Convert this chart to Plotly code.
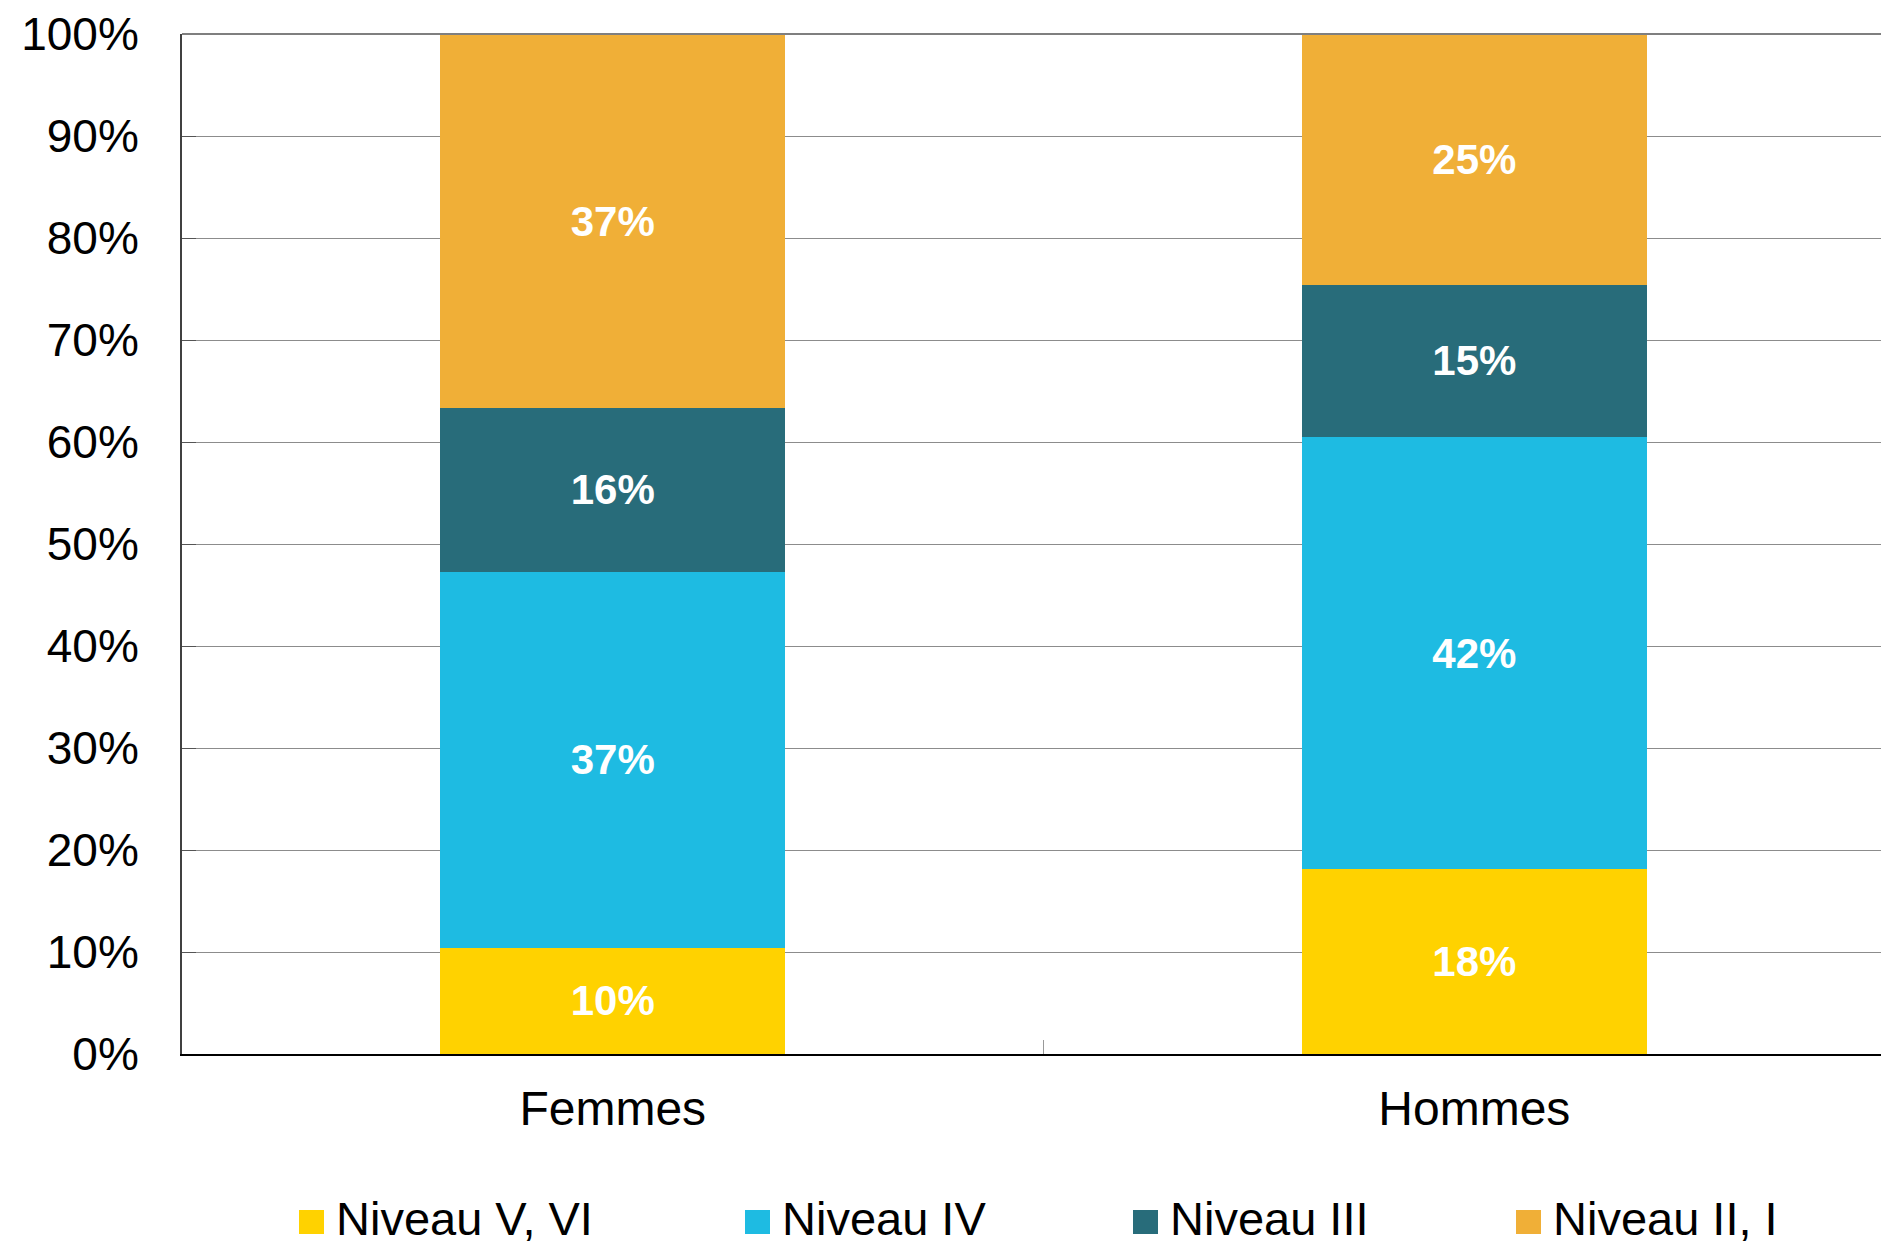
import plotly.graph_objects as go

categories = ["Femmes", "Hommes"]
series_names = ["Niveau V, VI", "Niveau IV", "Niveau III", "Niveau II, I"]
niveau_v_vi = [10.4, 18.1]
niveau_iv = [36.9, 42.4]
niveau_iii = [16.0, 14.9]
niveau_ii_i = [36.7, 24.6]
series_values = [niveau_v_vi, niveau_iv, niveau_iii, niveau_ii_i]
colors = ["#FFD200", "#1EBBE2", "#286C7A", "#F0AF37"]
y_ticks = [0, 10, 20, 30, 40, 50, 60, 70, 80, 90, 100]

W, H = 1881, 1247
L, R, T, B = 182, 0, 34, 193
PW, PH = W - L - R, H - T - B

def px_x(x):
    return (x - L) / PW

def px_y(y):
    return (H - B - y) / PH

FONT = "Liberation Sans, Arial, sans-serif"

fig = go.Figure()
for name, vals, col in zip(series_names, series_values, colors):
    fig.add_trace(go.Bar(
        x=categories, y=vals, name=name, marker=dict(color=col, line=dict(width=0)),
        width=0.4, texttemplate="%{y:.0f}%", textposition="inside",
        insidetextanchor="middle", textangle=0,
        textfont=dict(family=FONT, size=42, color="white", weight="bold"),
        showlegend=False, hoverinfo="skip",
    ))

# manual legend
legend_sq_x = [299, 745, 1133, 1516]
shapes = []
annotations = []
for name, col, sx in zip(series_names, colors, legend_sq_x):
    shapes.append(dict(type="rect", xref="paper", yref="paper",
                       x0=px_x(sx), x1=px_x(sx + 25), y0=px_y(1234), y1=px_y(1210),
                       fillcolor=col, line=dict(width=0)))
    annotations.append(dict(text=name, xref="paper", yref="paper",
                            x=px_x(sx + 35), y=px_y(1218), xanchor="left", yanchor="middle",
                            showarrow=False, font=dict(family=FONT, size=47, color="black")))

# top border line
shapes.append(dict(type="line", xref="paper", yref="paper", x0=0, x1=1, y0=1, y1=1,
                   line=dict(color="#7f7f7f", width=2)))

fig.update_layout(
    barmode="stack",
    width=W, height=H,
    margin=dict(l=L, r=R, t=T, b=B, pad=0),
    paper_bgcolor="white", plot_bgcolor="white",
    bargap=0.6,
    shapes=shapes, annotations=annotations,
    xaxis=dict(range=[-0.5, 1.472], showline=True, linecolor="black", linewidth=2,
               ticks="inside", tickson="boundaries", ticklen=14, tickcolor="#999999", tickwidth=1,
               tickfont=dict(family=FONT, size=48, color="black"),
               ticklabelstandoff=11, showgrid=False, zeroline=False),
    yaxis=dict(range=[0, 100], tickvals=y_ticks, ticktext=[f"{v}%" for v in y_ticks],
               showline=True, linecolor="#404040", linewidth=2,
               ticks="inside", ticklen=14, tickcolor="#555555", tickwidth=1,
               showgrid=True, gridcolor="#8c8c8c", gridwidth=1, zeroline=False,
               tickfont=dict(family=FONT, size=46, color="black"),
               ticklabelstandoff=32),
    showlegend=False,
)

fig.write_html("out.html", config={"displayModeBar": False},
               post_script="document.body.style.margin='0';document.body.style.padding='0';")
